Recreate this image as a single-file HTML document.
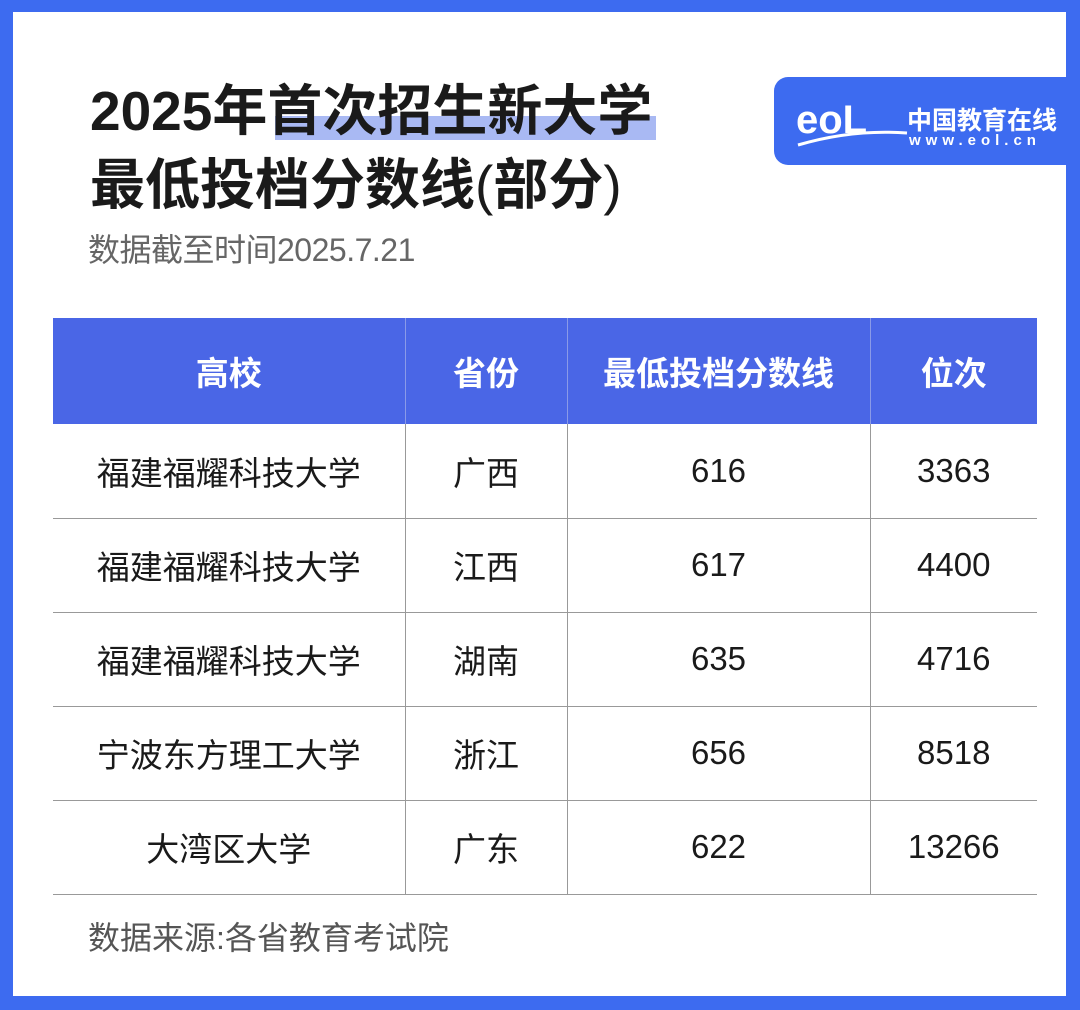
<!DOCTYPE html>
<html><head><meta charset="utf-8"><style>
*{margin:0;padding:0;box-sizing:border-box}
body{width:1080px;height:1010px;background:#fff;position:relative;overflow:hidden;font-family:"Liberation Sans","Noto Sans CJK SC",sans-serif}
.frame{position:absolute;left:0;top:0;width:1080px;height:1010px;border-style:solid;border-color:#3d6bf0;border-width:12px 14px 14px 13px}
.t{position:absolute;left:90px;font-size:55px;font-weight:bold;color:#1a1a1a;white-space:nowrap;letter-spacing:0px;line-height:1}
.hl{position:absolute;left:275px;top:116px;width:381px;height:24px;background:#a9b9f3}
.sub{position:absolute;left:88px;top:234px;font-size:32px;color:#666;line-height:1;letter-spacing:-0.5px}
.logo{position:absolute;left:774px;top:77px;width:300px;height:88px;background:#3d6bf0;border-radius:14px 0 0 14px;color:#fff}
table{position:absolute;left:53px;top:318px;border-collapse:collapse;width:984px}
td,th{height:94px;text-align:center;font-size:33px;color:#1a1a1a;border-bottom:1px solid #999;font-weight:normal}
th{background:#4a66e6;color:#fff;font-weight:bold;height:106px;border-bottom:none;border-left:1px solid #8a9ae8}
td+td{border-left:1px solid #999}
th:first-child{border-left:none}
.src{position:absolute;left:88px;top:922px;font-size:32px;color:#555;line-height:1}
</style></head><body>
<div class="hl"></div>
<div class="t" style="top:84px">2025年首次招生新大学</div>
<div class="t" style="top:158px">最低投档分数线<span style="font-weight:normal">(</span>部分<span style="font-weight:normal">)</span></div>
<div class="sub">数据截至时间2025.7.21</div>
<div class="logo">
<svg width="120" height="88" style="position:absolute;left:18px;top:0">
<text x="4" y="56" font-family="Liberation Sans" font-weight="bold" font-size="40" fill="#fff">eoL</text>
<path d="M6 68 Q60 52 115 56" stroke="#fff" stroke-width="3" fill="none"/>
</svg>
<div style="position:absolute;left:133px;top:24px;font-size:25px;font-weight:bold;white-space:nowrap">中国教育在线</div>
<div style="position:absolute;left:135px;top:55px;font-size:15px;font-weight:bold;letter-spacing:5px;white-space:nowrap">www.eol.cn</div>
</div>
<table>
<tr><th style="width:352px">高校</th><th style="width:162px">省份</th><th style="width:303px">最低投档分数线</th><th>位次</th></tr>
<tr><td>福建福耀科技大学</td><td>广西</td><td>616</td><td>3363</td></tr>
<tr><td>福建福耀科技大学</td><td>江西</td><td>617</td><td>4400</td></tr>
<tr><td>福建福耀科技大学</td><td>湖南</td><td>635</td><td>4716</td></tr>
<tr><td>宁波东方理工大学</td><td>浙江</td><td>656</td><td>8518</td></tr>
<tr><td>大湾区大学</td><td>广东</td><td>622</td><td>13266</td></tr>
</table>
<div class="src">数据来源:各省教育考试院</div>
<div class="frame"></div>
</body></html>
